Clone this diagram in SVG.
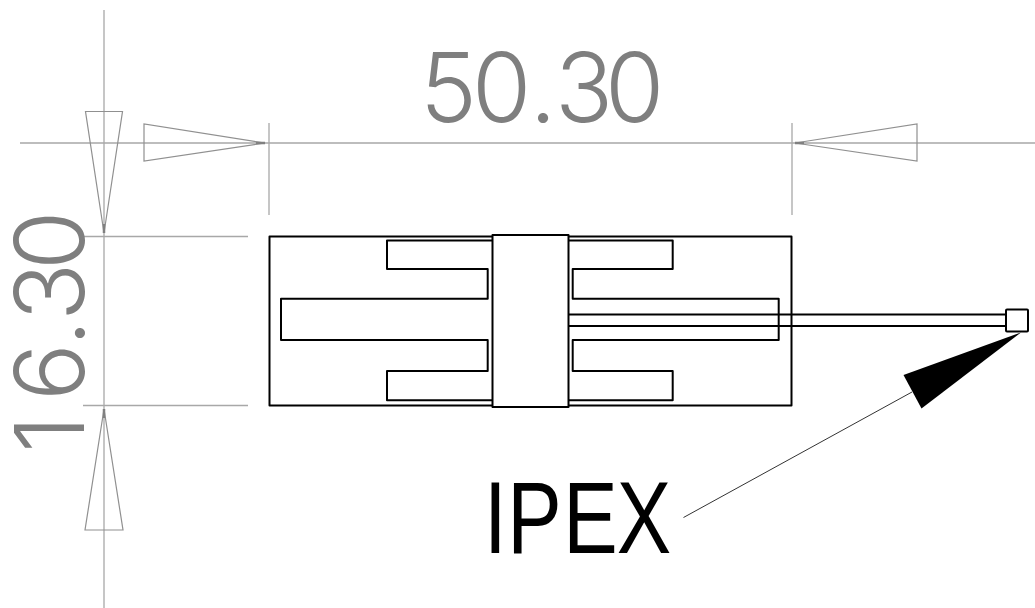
<svg xmlns="http://www.w3.org/2000/svg" width="1035" height="608" viewBox="0 0 1035 608">
<style>
.bg{fill:#fff}
.dim{stroke:#a8a8a8;stroke-width:1.3;fill:none}
.head{stroke:#909090;stroke-width:1.2;fill:none}
.tip{stroke:#808080;stroke-width:2.5;fill:none}
.part{stroke:#000;stroke-width:2;fill:none;stroke-linejoin:round}
.white{fill:#fff}
.dt{font-family:"Inter","Liberation Sans",sans-serif;font-weight:300;font-size:96px;fill:#7f7f7f}
.lb{font-family:"Liberation Sans",sans-serif;font-size:102px;fill:#000}
</style>
<rect class="bg" width="1035" height="608"/>
<g id="connectors">
<path class="dim" d="M104 10V608M20 143H1035M269 123V215M792 123V215M84 236.500H248M83 405.500H248"/>
<path class="head" d="M104 233L85.500 111.500H122.500ZM265 143L144 124V161ZM795 143L917 124V161ZM104 409L85 530H123Z"/>
<path class="tip" d="M104 224V233M104 409V418M256 143H265M795 143H804"/>
<path d="M683.500 517.500L912 392" stroke="#333" stroke-width="1" fill="none"/>
<path d="M1021 332.500L903.500 375L921.500 408.500Z" fill="#000"/>
</g>
<g id="part">
<rect class="part" x="269.500" y="236.500" width="522" height="169"/>
<path class="part" d="M492 240.500H387V269H487.700V298.700H281V340H487.700V371H387V400.300H492"/>
<path class="part" d="M568 240.500H672.700V269H572.700V298.700H778.700V340H572.700V371H672.700V400.300H568"/>
</g>
<g id="sleeve"><rect class="part white" x="492.500" y="235" width="76" height="172"/></g>
<g id="wire"><path class="part" d="M568 314.500H1006M568 326H1006"/></g>
<g id="connector-ipex"><rect class="part white" x="1006" y="309.500" width="22" height="22" rx="1"/></g>
<text id="dim-width" class="dt" transform="translate(420 122)" x="0 52 109.500 135 185">50.30</text>
<text id="dim-height" class="dt" transform="translate(84 448) rotate(-90)" x="-5 47 101.500 127 178">16.30</text>
<text id="label-ipex" class="lb" transform="translate(0 553) scale(.8 1)" x="605 634 704 771">IPEX</text>
</svg>
